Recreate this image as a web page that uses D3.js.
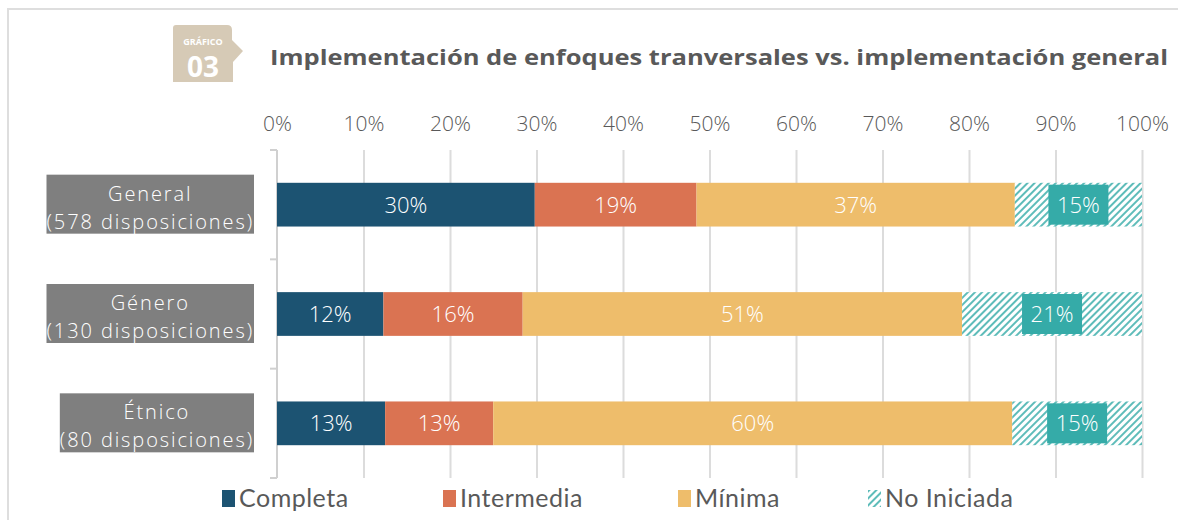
<!DOCTYPE html>
<html lang="es">
<head>
<meta charset="utf-8">
<title>Implementación de enfoques tranversales vs. implementación general</title>
<script src="https://cdn.jsdelivr.net/npm/d3@7"></script>
<style>
  body { margin: 0; background: #fff; }
  svg { display: block; }
  .tick text { font-family: "Open Sans", sans-serif; font-weight: 300; }
</style>
</head>
<body>
<script>
// Data
var categories = ["General", "Género", "Étnico"];
var subtitles = ["(578 disposiciones)", "(130 disposiciones)", "(80 disposiciones)"];
var levels = ["Completa", "Intermedia", "Mínima", "No Iniciada"];
var completa   = [29.8, 12.3, 12.5];
var intermedia = [18.7, 16.1, 12.5];
var minima     = [36.8, 50.8, 60.0];
var noIniciada = [14.7, 20.8, 15.0];
var xTicks = [0, 10, 20, 30, 40, 50, 60, 70, 80, 90, 100];

var colors = ["#1c5372", "#da7352", "#eebd6b", "#35aba8"];
var grey = "#595959";

var w = 1178, h = 520;
var plotLeft = 277, plotRight = 1142, plotTop = 150, plotBottom = 478;

var rows = categories.map(function(c, i) {
  return { cat: c, sub: subtitles[i],
    "Completa": completa[i], "Intermedia": intermedia[i],
    "Mínima": minima[i], "No Iniciada": noIniciada[i] };
});

var svg = d3.select("body").append("svg")
  .attr("width", w).attr("height", h);

var defs = svg.append("defs");
var pat = defs.append("pattern")
  .attr("id", "hatch")
  .attr("patternUnits", "userSpaceOnUse")
  .attr("width", 5).attr("height", 5)
  .attr("patternTransform", "rotate(45)");
pat.append("rect").attr("width", 5).attr("height", 5).attr("fill", "#fff");
pat.append("line").attr("x1", 1).attr("y1", 0).attr("x2", 1).attr("y2", 5)
  .attr("stroke", colors[3]).attr("stroke-width", 1.6);

// frame
svg.append("path")
  .attr("d", "M8," + h + "V9H" + w)
  .attr("fill", "none").attr("stroke", "#dedede").attr("stroke-width", 2);

// badge
var badge = svg.append("g");
badge.append("path")
  .attr("d", "M176,25H227Q232,25 232,30V40L243,51L233,62V82H173V28Q173,25 176,25Z")
  .attr("fill", "#d6cab6");
badge.append("text").attr("x", 203).attr("y", 45).attr("text-anchor", "middle")
  .attr("fill", "#fff").attr("font-family", "Open Sans, sans-serif")
  .attr("font-weight", 700).attr("font-size", 9).text("GRÁFICO");
badge.append("text").attr("x", 203).attr("y", 77).attr("text-anchor", "middle")
  .attr("fill", "#fff").attr("font-family", "Open Sans, sans-serif")
  .attr("font-weight", 700).attr("font-size", 28).text("03");

// title
svg.append("text")
  .attr("x", 270).attr("y", 65)
  .attr("fill", grey)
  .attr("font-family", "Open Sans, sans-serif")
  .attr("font-weight", 700).attr("font-size", 22)
  .attr("textLength", 898).attr("lengthAdjust", "spacingAndGlyphs")
  .text("Implementación de enfoques tranversales vs. implementación general");

// scales
var xScale = d3.scaleLinear().domain([0, 100]).range([plotLeft, plotRight]);
var yScale = d3.scaleBand().domain(categories).range([plotTop, plotBottom])
  .paddingInner(0.6).paddingOuter(0.3);

// gridlines
var grid = svg.append("g")
  .attr("transform", "translate(0," + plotTop + ")")
  .call(d3.axisBottom(xScale).tickValues(xTicks.slice(1))
    .tickSize(plotBottom - plotTop).tickFormat(""));
grid.select(".domain").remove();
grid.selectAll("line").attr("stroke", "#dcdcdc").attr("stroke-width", 2);

// top axis labels
var xAxis = svg.append("g")
  .attr("transform", "translate(0,131)")
  .call(d3.axisTop(xScale).tickValues(xTicks).tickSize(0).tickPadding(0)
    .tickFormat(function(d) { return d + "%"; }));
xAxis.select(".domain").remove();
xAxis.selectAll("text").attr("fill", grey).attr("font-size", 21);

// left axis with ticks at band boundaries
var yAxis = svg.append("g");
yAxis.append("line").attr("x1", plotLeft).attr("x2", plotLeft)
  .attr("y1", plotTop).attr("y2", plotBottom)
  .attr("stroke", "#d0d0d0").attr("stroke-width", 2);
yAxis.selectAll(".bt").data(d3.range(categories.length + 1)).enter()
  .append("line")
  .attr("x1", plotLeft - 7).attr("x2", plotLeft)
  .attr("y1", function(i) { return plotTop + i * yScale.step(); })
  .attr("y2", function(i) { return plotTop + i * yScale.step(); })
  .attr("stroke", "#d0d0d0").attr("stroke-width", 2);

// stacked bars
var stack = d3.stack().keys(levels);
var series = stack(rows);

var layers = svg.selectAll(".layer").data(series).enter()
  .append("g").attr("class", "layer");

layers.selectAll("rect").data(function(d) { return d; }).enter()
  .append("rect")
  .attr("x", function(d) { return xScale(d[0]); })
  .attr("y", function(d) { return yScale(d.data.cat); })
  .attr("width", function(d) { return xScale(d[1]) - xScale(d[0]); })
  .attr("height", yScale.bandwidth())
  .attr("fill", function() {
    var k = d3.select(this.parentNode).datum().key;
    return k === "No Iniciada" ? "url(#hatch)" : colors[levels.indexOf(k)];
  });

// value labels
layers.each(function(s) {
  var g = d3.select(this);
  var isNo = s.key === "No Iniciada";
  s.forEach(function(d) {
    var cx = (xScale(d[0]) + xScale(d[1])) / 2;
    var cy = yScale(d.data.cat) + yScale.bandwidth() / 2;
    if (isNo) {
      g.append("rect")
        .attr("x", cx - 30).attr("y", cy - 20)
        .attr("width", 60).attr("height", 40)
        .attr("fill", colors[3]);
    }
    g.append("text")
      .attr("x", cx).attr("y", cy + 8)
      .attr("text-anchor", "middle")
      .attr("fill", "#fff")
      .attr("font-family", "Open Sans, sans-serif")
      .attr("font-weight", 300)
      .attr("font-size", 22)
      .text(Math.round(d[1] - d[0]) + "%");
  });
});

// category labels (one text, two lines)
rows.forEach(function(r) {
  var cy = yScale(r.cat) + yScale.bandwidth() / 2;
  var g = svg.append("g");
  var bg = g.append("rect").attr("fill", "#7f7f7f");
  var txt = g.append("text")
    .attr("text-anchor", "middle")
    .attr("fill", "#fff")
    .attr("font-family", "Open Sans, sans-serif")
    .attr("font-weight", 300)
    .attr("font-size", 20)
    .attr("letter-spacing", 1.9);
  var s1 = txt.append("tspan").attr("y", cy - 4).text(r.cat);
  var s2 = txt.append("tspan").attr("y", cy + 24).text(r.sub);
  var bw = Math.max(s1.node().getComputedTextLength(), s2.node().getComputedTextLength());
  var cx = 254 - bw / 2;
  s1.attr("x", cx);
  s2.attr("x", cx);
  bg.attr("x", 254 - bw).attr("y", cy - 30).attr("width", bw).attr("height", 59);
});

// legend
var legendX = [222, 443, 678, 868];
var legend = svg.selectAll(".legend").data(levels).enter()
  .append("g").attr("class", "legend")
  .attr("transform", function(d, i) { return "translate(" + legendX[i] + ",490)"; });
legend.append("rect")
  .attr("width", 13).attr("height", 17)
  .attr("fill", function(d, i) { return d === "No Iniciada" ? "url(#hatch)" : colors[i]; });
legend.append("text")
  .attr("x", 17).attr("y", 17)
  .attr("fill", grey)
  .attr("font-family", "Lato, sans-serif")
  .attr("font-size", 25)
  .attr("letter-spacing", 0.5)
  .text(function(d) { return d; });
</script>
</body>
</html>
